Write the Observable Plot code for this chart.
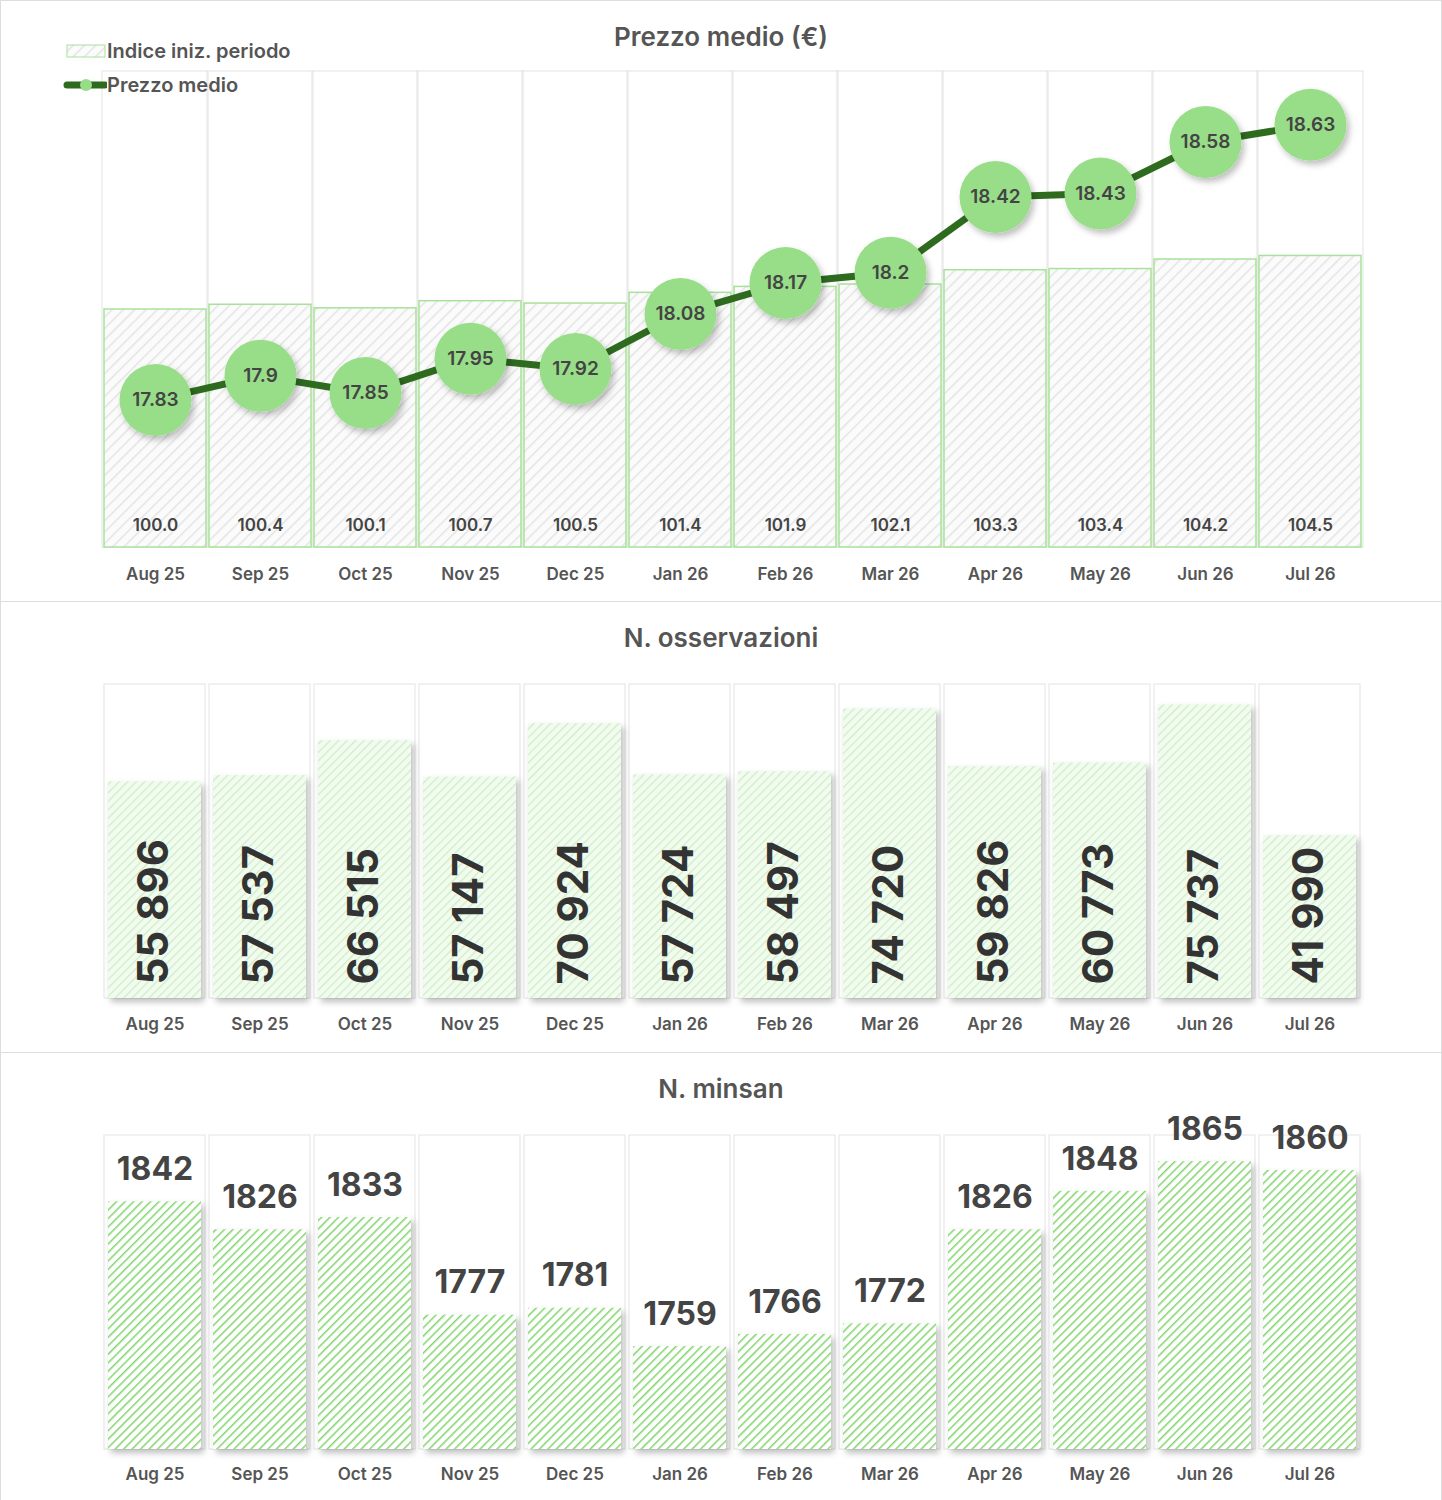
<!DOCTYPE html>
<html><head><meta charset="utf-8">
<script src="https://cdn.jsdelivr.net/npm/d3@7"></script>
<script src="https://cdn.jsdelivr.net/npm/@observablehq/plot@0.6"></script>
<style>
body{margin:0;background:#fff;font-family:Inter,"Open Sans",sans-serif;}
#wrap{width:1440px;border:1px solid #ddd;}
.panel{position:relative;border-bottom:1px solid #ddd;}
.panel:last-child{border-bottom:none;}
.title{position:absolute;left:0;right:0;text-align:center;font-size:26px;font-weight:600;color:#555;}
.legend{position:absolute;left:62px;top:33px;font-size:20px;font-weight:600;color:#555;line-height:34px;}
.legend div{display:flex;align-items:center;}
svg text{font-family:Inter,"Open Sans",sans-serif;}
</style></head><body>
<svg width="0" height="0" style="position:absolute">
<defs>
<pattern id="p1" width="8" height="8" patternUnits="userSpaceOnUse" patternTransform="rotate(45)">
<rect width="8" height="8" fill="#fbfbfb"/><line x1="0" y1="0" x2="0" y2="8" stroke="#e4e4e4" stroke-width="3"/></pattern>
<pattern id="p2" width="6" height="6" patternUnits="userSpaceOnUse" patternTransform="rotate(45)">
<rect width="6" height="6" fill="#f2fbef"/><line x1="0" y1="0" x2="0" y2="6" stroke="#cdeec3" stroke-width="2.5"/></pattern>
<pattern id="p3" width="6" height="6" patternUnits="userSpaceOnUse" patternTransform="rotate(45)">
<rect width="6" height="6" fill="#ffffff"/><line x1="0" y1="0" x2="0" y2="6" stroke="#7fd66a" stroke-width="3"/></pattern>
<filter id="sh" x="-30%" y="-30%" width="160%" height="160%"><feDropShadow dx="3" dy="4" stdDeviation="3" flood-color="#000" flood-opacity="0.25"/></filter>
</defs></svg>
<div id="wrap">
<div class="panel" id="c1"><div class="title" style="top:20px">Prezzo medio (€)</div>
<div class="legend"><div><svg width="44" height="16"><rect x="4" y="2" width="38" height="12" fill="url(#p1)" stroke="#a8e29a"/></svg>Indice iniz. periodo</div>
<div><svg width="44" height="16"><line x1="4" y1="8" x2="42" y2="8" stroke="#2e6b1f" stroke-width="7" stroke-linecap="round"/><circle cx="23" cy="8" r="6" fill="#98dd88"/></svg>Prezzo medio</div></div></div>
<div class="panel" id="c2"><div class="title" style="top:20px">N. osservazioni</div></div>
<div class="panel" id="c3"><div class="title" style="top:20px">N. minsan</div></div>
</div>
<script>
const months=["Aug 25","Sep 25","Oct 25","Nov 25","Dec 25","Jan 26","Feb 26","Mar 26","Apr 26","May 26","Jun 26","Jul 26"];
const indexVals=[100.0,100.4,100.1,100.7,100.5,101.4,101.9,102.1,103.3,103.4,104.2,104.5];
const prices=[17.83,17.9,17.85,17.95,17.92,18.08,18.17,18.2,18.42,18.43,18.58,18.63];
const obs=[55896,57537,66515,57147,70924,57724,58497,74720,59826,60773,75737,41990];
const minsan=[1842,1826,1833,1777,1781,1759,1766,1772,1826,1848,1865,1860];

const fmtSp=v=>d3.format(",")(v).replace(/,/g," ");
const d1=months.map((m,i)=>({m,idx:indexVals[i],p:prices[i],py:92.4+(prices[i]-17.83)*28.9}));
const xOpts={domain:months,paddingInner:0.03,paddingOuter:0,label:null,tickSize:0,tickPadding:20};
const grid=(y1,y2)=>Plot.barY(months,{x:d=>d,y1,y2,fill:"none",stroke:"#e3e3e3",insetLeft:-2,insetRight:-2});
const common={width:1440,marginLeft:100,marginRight:78,style:{fontSize:"17px",color:"#555",fontWeight:600}};

const p1=Plot.plot({...common,height:600,marginTop:70,marginBottom:54,
 x:xOpts,y:{domain:[80,120],axis:null},
 marks:[grid(80,120),
  Plot.barY(d1,{x:"m",y1:80,y2:"idx",fill:"url(#p1)",stroke:"#a8e29a",strokeWidth:1.5}),
  Plot.text(d1,{x:"m",y:80,text:d=>d.idx.toFixed(1),dy:-22,fontSize:17,fontWeight:600,fill:"#444"}),
  Plot.line(d1,{x:"m",y:"py",stroke:"#2e6b1f",strokeWidth:7}),
  Plot.dot(d1,{x:"m",y:"py",r:36,fill:"#98dd88"}),
  Plot.text(d1,{x:"m",y:"py",text:d=>String(d.p),fontSize:19,fontWeight:600,fill:"#444"})]});
document.getElementById("c1").appendChild(p1);
p1.querySelectorAll("circle").forEach(c=>c.setAttribute("filter","url(#sh)"));

const d2=months.map((m,i)=>({m,v:obs[i]}));
const p2=Plot.plot({...common,height:450,marginTop:82,marginBottom:54,
 x:{...xOpts,paddingInner:0.08,tickPadding:19},y:{domain:[0,81000],axis:null},
 marks:[grid(0,81000),
  Plot.barY(d2,{x:"m",y:"v",fill:"url(#p2)",insetLeft:2,insetRight:2}),
  Plot.text(d2,{x:"m",y:3600,text:d=>fmtSp(d.v),rotate:-90,textAnchor:"start",fontSize:42,fontWeight:700,fill:"#333"})]});
document.getElementById("c2").appendChild(p2);

const d3d=months.map((m,i)=>({m,v:minsan[i]}));
const p3=Plot.plot({...common,height:448,marginTop:82,marginBottom:52,
 x:{...xOpts,paddingInner:0.08,tickPadding:18},y:{domain:[1700,1880],axis:null},
 marks:[grid(1700,1880),
  Plot.barY(d3d,{x:"m",y1:1700,y2:"v",fill:"url(#p3)",insetLeft:2,insetRight:2}),
  Plot.text(d3d,{x:"m",y:"v",text:d=>String(d.v),dy:-32,fontSize:32,fontWeight:700,fill:"#444"})]});
document.getElementById("c3").appendChild(p3);
[p2,p3].forEach(s=>s.querySelectorAll("g[aria-label='bar']")[1].setAttribute("filter","url(#sh)"));
</script></body></html>
